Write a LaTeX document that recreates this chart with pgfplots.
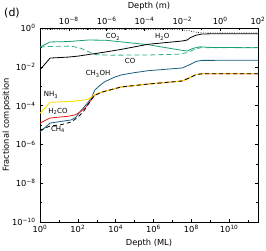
\documentclass[border=0pt]{standalone}
\usepackage{pgfplots}
\pgfplotsset{compat=1.18}
\usepackage{fontspec}
\setmainfont{DejaVu Sans}
\definecolor{cgreen}{RGB}{22,160,115}
\definecolor{cgreenl}{RGB}{45,178,132}
\definecolor{cteal}{RGB}{25,95,130}
\definecolor{cyel}{RGB}{255,225,0}
\definecolor{cred}{RGB}{225,30,30}
\newcommand{\sbs}[1]{\textsubscript{#1}}
\newcommand{\sps}[1]{\textsuperscript{#1}}
\begin{document}
\begin{tikzpicture}
\begin{axis}[
  name=main, at={(0,0)}, anchor=south west,
  scale only axis, width=218pt, height=194pt,
  xmode=log, ymode=log,
  xmin=1, xmax=3.333e11, ymin=1e-10, ymax=1,
  xtick={1,1e2,1e4,1e6,1e8,1e10},
  xticklabels={10\sps{0},10\sps{2},10\sps{4},10\sps{6},10\sps{8},10\sps{10}},
  minor xtick={1e1,1e3,1e5,1e7,1e9,1e11},
  ytick={1e-10,1e-8,1e-6,1e-4,1e-2,1},
  yticklabels={10\sps{−10},10\sps{−8},10\sps{−6},10\sps{−4},10\sps{−2},10\sps{0}},
  minor ytick={1e-9,1e-7,1e-5,1e-3,1e-1},
  xtick pos=left, ytick pos=both,
  tick align=inside,
  major tick length=3pt, minor tick length=1.8pt,
  tick style={black, line width=0.5pt},
  axis line style={line width=0.7pt},
  ticklabel style={font=\fontsize{8.3}{9}\selectfont},
  yticklabel style={xshift=-1pt},
  label style={font=\fontsize{8.3}{9}\selectfont},
  xlabel={Depth (ML)},
  xlabel style={at={(axis description cs:0.5,-0.108)}, anchor=center},
  ylabel={Fractional composition},
  ylabel style={at={(axis description cs:-0.153,0.5)}, anchor=center},
  clip=false,
]
% total (dotted)
\addplot[black, line width=0.6pt, dash pattern=on 0.8pt off 1.6pt] coordinates {
(1,0.83)(2e7,0.83)(6e7,0.76)(1.5e8,0.62)(3.7e8,0.56)(3.333e11,0.56)};
% CO (dashed green)
\addplot[cgreenl, line width=0.8pt, dash pattern=on 5pt off 3pt] coordinates {
(1,0.105)(3.4,0.112)(44,0.117)(150,0.0891)(800,0.0427)(5e3,0.0398)(5.2e5,0.0407)(2e7,0.0447)(6e7,0.0537)(1.5e8,0.0794)(2.9e8,0.0955)(3.333e11,0.100)};
% CO2
\addplot[cgreen, line width=0.8pt] coordinates {
(1,0.105)(3.4,0.191)(30,0.200)(350,0.240)(3000,0.234)(5.2e5,0.138)(2e7,0.0759)(6e7,0.0646)(1.2e8,0.0891)(2.9e8,0.107)(1e9,0.100)(3.333e11,0.0955)};
% H2O
\addplot[black, line width=0.8pt] coordinates {
(1,6.92e-3)(3.4,2.82e-2)(30,3.16e-2)(100,3.55e-2)(500,4.47e-2)(2750,5.75e-2)(2e4,7.94e-2)(5.2e5,1.45e-1)(3.3e7,2.14e-1)(6e7,2.40e-1)(8.7e7,3.16e-1)(1.8e8,4.27e-1)(3.7e8,4.90e-1)(1e9,5.01e-1)(3.333e11,5.01e-1)};
% CH3OH
\addplot[cteal, line width=0.8pt] coordinates {
(1,4.37e-6)(3.4,1.26e-5)(44,1.82e-5)(80,2.51e-5)(126,4.68e-5)(250,1.0e-4)(518,2.4e-4)(785,6.31e-4)(1500,1.12e-3)(2650,1.70e-3)(8000,2.82e-3)(1.93e4,3.80e-3)(1e5,5.01e-3)(5.2e5,6.31e-3)(3.3e7,8.71e-3)(8.7e7,1.32e-2)(1.8e8,1.91e-2)(3.7e8,2.14e-2)(3.333e11,2.19e-2)};
% H2CO
\addplot[cred, line width=0.8pt] coordinates {
(1,1.26e-5)(3.4,2.29e-5)(30,2.82e-5)(71,3.31e-5)(150,5.01e-5)(270,8.51e-5)(500,1.91e-4)(810,3.55e-4)(1500,4.57e-4)(2750,5.50e-4)(1.94e4,9.12e-4)(5.2e5,1.29e-3)(3.3e7,1.86e-3)(8.7e7,2.82e-3)(1.8e8,3.98e-3)(3.7e8,4.37e-3)(3.333e11,4.37e-3)};
% NH3
\addplot[cyel, line width=0.9pt] coordinates {
(1,3.98e-5)(3.4,1.48e-4)(50,1.66e-4)(240,1.95e-4)(400,2.29e-4)(600,3.02e-4)(810,3.80e-4)(1500,4.68e-4)(2750,5.50e-4)(1.94e4,9.12e-4)(5.2e5,1.29e-3)(3.3e7,1.86e-3)(8.7e7,2.82e-3)(1.8e8,3.98e-3)(3.7e8,4.37e-3)(3.333e11,4.37e-3)};
% CH4
\addplot[black, line width=0.8pt, dash pattern=on 4pt off 3pt] coordinates {
(1,5.25e-6)(3.4,8.91e-6)(11,1.0e-5)(44,1.41e-5)(100,2.51e-5)(200,5.01e-5)(400,1.41e-4)(700,3.16e-4)(1500,4.57e-4)(2750,5.50e-4)(1.94e4,9.12e-4)(5.2e5,1.29e-3)(3.3e7,1.86e-3)(8.7e7,2.82e-3)(1.8e8,3.98e-3)(3.7e8,4.37e-3)(3.333e11,4.37e-3)};
% labels
\begin{scope}[every node/.style={font=\fontsize{7}{8}\selectfont, inner sep=0pt}]
\node at (axis cs:7244,0.347) {CO\sbs{2}};
\node at (axis cs:2.9e6,0.347) {H\sbs{2}O};
\node at (axis cs:5.8e4,0.020) {CO};
\node at (axis cs:1175,4.27e-3) {CH\sbs{3}OH};
\node at (axis cs:3.8,3.5e-4) {NH\sbs{3}};
\node at (axis cs:8.9,5.2e-5) {H\sbs{2}CO};
\node at (axis cs:8.9,6.2e-6) {CH\sbs{4}};
\end{scope}
\end{axis}
\begin{axis}[
  at={(0,0)}, anchor=south west,
  scale only axis, width=218pt, height=194pt,
  xmode=log, xmin=3e-10, xmax=100, ymin=0, ymax=1,
  hide y axis,
  xtick pos=right, xticklabel pos=right,
  xtick={1e-8,1e-6,1e-4,1e-2,1,1e2},
  xticklabels={10\sps{−8},10\sps{−6},10\sps{−4},10\sps{−2},10\sps{0},10\sps{2}},
  minor xtick={1e-9,1e-7,1e-5,1e-3,1e-1,1e1},
  tick align=inside,
  major tick length=3pt, minor tick length=1.8pt,
  tick style={black, line width=0.5pt},
  axis line style={line width=0.7pt},
  ticklabel style={font=\fontsize{8.3}{9}\selectfont},
  label style={font=\fontsize{8.3}{9}\selectfont},
  xlabel={Depth (m)},
  xlabel style={at={(axis description cs:0.5,1.111)}, anchor=center},
]
\end{axis}
\node[font=\fontsize{11}{12}\selectfont] at ([shift={(-28pt,15pt)}]main.north west) {(d)};
\pgfresetboundingbox
\path[use as bounding box] (-40pt,-28pt) rectangle (226pt,222pt);
\end{tikzpicture}
\end{document}
